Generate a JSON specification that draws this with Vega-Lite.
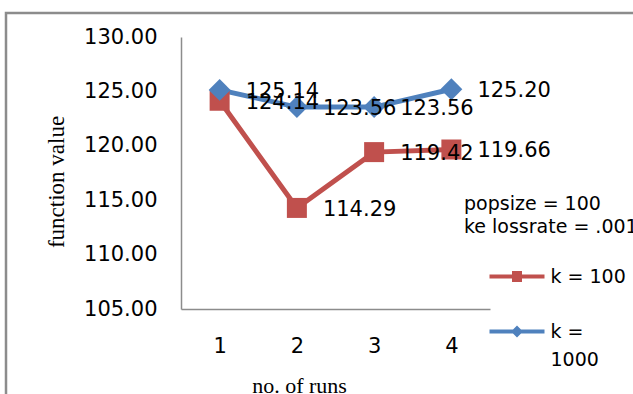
{
  "$schema": "https://vega.github.io/schema/vega-lite/v6.json",
  "width": 627,
  "height": 381,
  "autosize": {"type": "none"},
  "padding": {"left": 6, "top": 13, "right": 0, "bottom": 0},
  "background": "white",
  "config": {
    "view": {"stroke": "#8c8c8c", "strokeWidth": 2.5, "strokeDash": [627, 1008, 381]},
    "font": "DejaVu Sans",
    "axis": {
      "grid": false,
      "ticks": false,
      "tickSize": 0,
      "domainColor": "#8c8c8c",
      "domainWidth": 1.5,
      "labelFont": "DejaVu Sans",
      "labelFontSize": 21,
      "labelColor": "#000000",
      "titleFont": "Liberation Serif",
      "titleFontSize": 22,
      "titleFontWeight": "normal",
      "titleColor": "#000000"
    }
  },
  "data": {
    "values": [
      {"run": 1, "series": "k = 100", "value": 124.14},
      {"run": 2, "series": "k = 100", "value": 114.29},
      {"run": 3, "series": "k = 100", "value": 119.42},
      {"run": 4, "series": "k = 100", "value": 119.66},
      {"run": 1, "series": "k = 1000", "value": 125.14},
      {"run": 2, "series": "k = 1000", "value": 123.56},
      {"run": 3, "series": "k = 1000", "value": 123.56},
      {"run": 4, "series": "k = 1000", "value": 125.20}
    ]
  },
  "encoding": {
    "x": {
      "field": "run",
      "type": "quantitative",
      "scale": {"domain": [0.5, 4.5], "range": [175, 484], "nice": false, "zero": false},
      "axis": {
        "orient": "bottom",
        "values": [1, 2, 3, 4],
        "format": "d",
        "offset": -85,
        "labelPadding": 26,
        "title": "no. of runs",
        "titleX": 293,
        "titleY": 83,
        "titleAlign": "center",
        "titleBaseline": "alphabetic"
      }
    },
    "y": {
      "field": "value",
      "type": "quantitative",
      "scale": {"domain": [105, 130], "range": [296, 24], "nice": false, "zero": false},
      "axis": {
        "values": [105, 110, 115, 120, 125, 130],
        "format": ".2f",
        "offset": -175,
        "labelPadding": 24,
        "title": "function value",
        "titleFontSize": 23,
        "titleX": -118,
        "titleY": 168.5,
        "titleAngle": -90,
        "titleAlign": "center",
        "titleBaseline": "alphabetic"
      }
    }
  },
  "layer": [
    {
      "mark": {"type": "line", "strokeWidth": 5},
      "encoding": {
        "color": {
          "field": "series",
          "type": "nominal",
          "scale": {"domain": ["k = 100", "k = 1000"], "range": ["#C0504D", "#4F81BD"]},
          "legend": {
            "orient": "none",
            "legendX": 458,
            "legendY": 182,
            "padding": 0,
            "title": ["popsize = 100", "ke lossrate = .001"],
            "titleFont": "DejaVu Sans",
            "titleFontSize": 19,
            "titleFontWeight": "normal",
            "titleColor": "#000000",
            "titleLineHeight": 23,
            "titleAnchor": "start",
            "titlePadding": 30,
            "titleLimit": 400,
            "labelFont": "DejaVu Sans",
            "labelFontSize": 19,
            "labelColor": "#000000",
            "labelLimit": 400,
            "labelExpr": "datum.label === 'k = 1000' ? ['k =', '1000'] : datum.label",
            "symbolSize": 100,
            "symbolStrokeWidth": 0,
            "symbolOffset": 43.5,
            "labelOffset": 24,
            "rowPadding": 35,
            "encode": {
              "symbols": {
                "update": {
                  "shape": {"signal": "datum.value === 'k = 100' ? 'M-5.5,-0.4H5.5V0.4H-5.5Z M-1,-1.1H1V1.1H-1Z' : 'M-5.5,-0.4H5.5V0.4H-5.5Z M0,-1.2L1.2,0L0,1.2L-1.2,0Z'"},
                  "fill": {"signal": "datum.value === 'k = 100' ? '#C0504D' : '#4F81BD'"},
                  "stroke": {"value": "transparent"},
                  "strokeWidth": {"value": 0},
                  "opacity": {"value": 1}
                }
              },
              "labels": {
                "update": {
                  "lineHeight": {"value": 28}
                }
              }
            }
          }
        }
      }
    },
    {
      "transform": [{"filter": "datum.series === 'k = 100'"}],
      "mark": {"type": "point", "shape": "square", "filled": true, "size": 400, "color": "#C0504D", "opacity": 1}
    },
    {
      "transform": [{"filter": "datum.series === 'k = 1000'"}],
      "mark": {"type": "point", "shape": "diamond", "filled": true, "size": 480, "color": "#4F81BD", "opacity": 1}
    },
    {
      "mark": {"type": "text", "align": "left", "baseline": "middle", "dx": 26, "dy": 2, "font": "DejaVu Sans", "fontSize": 21, "color": "#000000"},
      "encoding": {
        "text": {"field": "value", "type": "quantitative", "format": ".2f"}
      }
    }
  ]
}
